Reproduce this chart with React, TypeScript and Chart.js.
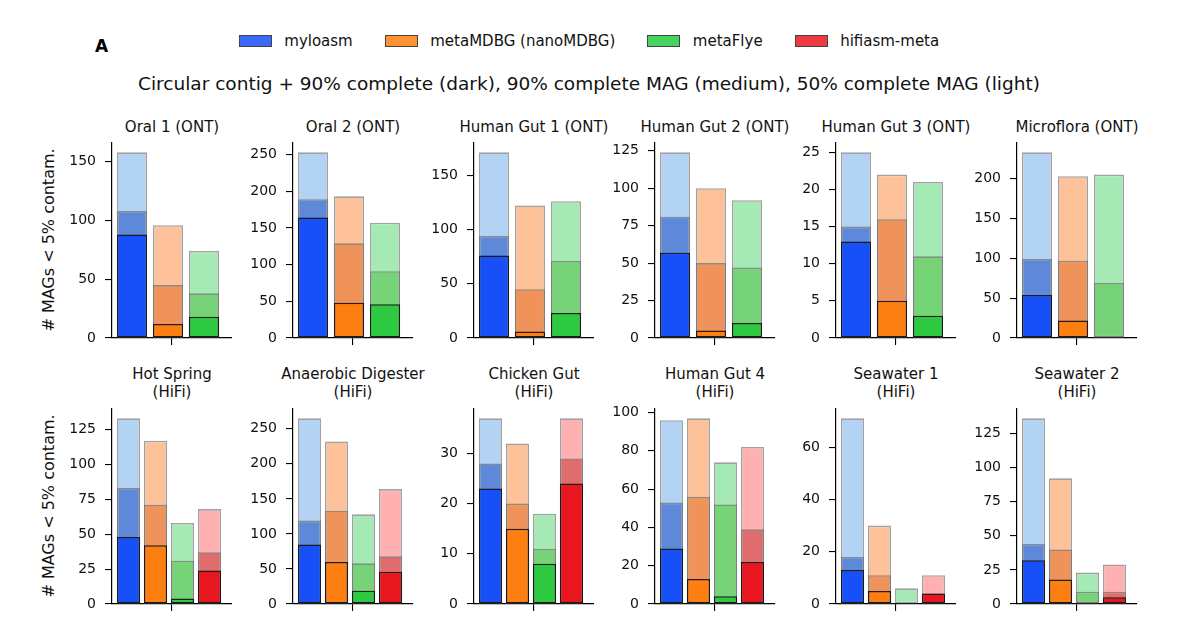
import React, { useEffect, useRef } from 'react';
import { Chart, registerables } from 'chart.js';

Chart.register(...registerables);
Chart.defaults.font.family = "'DejaVu Sans', sans-serif";

const methods = ['myloasm', 'metaMDBG (nanoMDBG)', 'metaFlye', 'hifiasm-meta'];

const panelTitles = [
  ['Oral 1 (ONT)'],
  ['Oral 2 (ONT)'],
  ['Human Gut 1 (ONT)'],
  ['Human Gut 2 (ONT)'],
  ['Human Gut 3 (ONT)'],
  ['Microflora (ONT)'],
  ['Hot Spring', '(HiFi)'],
  ['Anaerobic Digester', '(HiFi)'],
  ['Chicken Gut', '(HiFi)'],
  ['Human Gut 4', '(HiFi)'],
  ['Seawater 1', '(HiFi)'],
  ['Seawater 2', '(HiFi)'],
];

// Circular contig + 90% complete (dark)
const circular90 = [
  [88, 12, 18],
  [164, 48, 46],
  [76, 6, 23],
  [57, 5, 10],
  [13, 5, 3],
  [54, 22, 0],
  [48, 42, 4, 24],
  [85, 60, 19, 46],
  [23, 15, 8, 24],
  [29, 13, 4, 22],
  [13, 5, 0, 4],
  [32, 18, 1, 5],
];

// 90% complete MAG (medium)
const complete90 = [
  [108, 45, 38],
  [189, 129, 91],
  [94, 45, 71],
  [81, 50, 47],
  [15, 16, 11],
  [99, 97, 69],
  [83, 71, 31, 37],
  [119, 133, 58, 68],
  [28, 20, 11, 29],
  [53, 56, 52, 39],
  [18, 11, 0, 4],
  [44, 40, 9, 9],
];

// 50% complete MAG (light)
const complete50 = [
  [158, 96, 74],
  [253, 193, 157],
  [171, 122, 126],
  [124, 100, 92],
  [25, 22, 21],
  [233, 203, 205],
  [133, 117, 58, 68],
  [265, 232, 128, 164],
  [37, 32, 18, 37],
  [96, 97, 74, 82],
  [71, 30, 6, 11],
  [136, 92, 23, 29],
];

const yTickStep = [50, 50, 50, 25, 5, 50, 25, 50, 10, 20, 20, 25];

const darkColors = ['#1750f7', '#fd7f12', '#2cc941', '#e8161f'];
const mediumColors = ['#5d89d8', '#f0935a', '#77d377', '#e06c6d'];
const lightColors = ['#b3d3f5', '#fec29b', '#a5eab5', '#ffb0b1'];
const legendColors = ['#3b6af8', '#fe9333', '#45d45e', '#ee3a40'];

const FONT = "'DejaVu Sans', sans-serif";

const SPINE_X0 = 112;
const COL_STEP = 181;
const ROW_TOP = [143, 409];
const PLOT_W = 120;
const PLOT_H = 195;
const PAD_L = 62;
const PAD_T = 22;
const PAD_R = 6;
const PAD_B = 22;

function Panel({ idx }: { idx: number }) {
  const ref = useRef<HTMLCanvasElement | null>(null);
  const row = idx < 6 ? 0 : 1;
  const col = idx % 6;
  const left = SPINE_X0 + COL_STEP * col - PAD_L;
  const top = ROW_TOP[row] - PAD_T;
  const W = PAD_L + PLOT_W + PAD_R;
  const H = PAD_T + PLOT_H + PAD_B;

  useEffect(() => {
    if (!ref.current) return;
    const n = complete50[idx].length;
    const slot = row === 0 ? 36 : 27;
    const firstCenter = row === 0 ? 20 : 16.5;
    const xmin = -firstCenter / slot;
    const xmax = xmin + PLOT_W / slot;
    const ymax = Math.max(...complete50[idx]) * 1.05;
    const step = yTickStep[idx];
    const barPct = row === 0 ? 0.84 : 0.86;
    const mk = (vals: number[]) => vals.map((v, i) => ({ x: i, y: v }));
    const cols = (arr: string[]) => arr.slice(0, n);

    const chart = new Chart(ref.current, {
      type: 'bar',
      data: {
        datasets: [
          {
            label: 'dark',
            data: mk(circular90[idx]),
            backgroundColor: cols(darkColors),
            borderColor: 'rgba(15,15,15,0.9)',
            borderWidth: 1.5,
          },
          {
            label: 'medium',
            data: mk(complete90[idx]),
            backgroundColor: cols(mediumColors),
            borderColor: 'rgba(115,115,115,0.75)',
            borderWidth: 1.6,
          },
          {
            label: 'light',
            data: mk(complete50[idx]),
            backgroundColor: cols(lightColors),
            borderColor: 'rgba(130,130,130,0.75)',
            borderWidth: 1.6,
          },
        ],
      },
      options: {
        responsive: false,
        animation: false,
        devicePixelRatio: 1,
        layout: { padding: { left: 0, top: PAD_T, right: PAD_R, bottom: 0 } },
        datasets: {
          bar: {
            grouped: false,
            categoryPercentage: 1,
            barPercentage: barPct,
            borderSkipped: false,
          },
        },
        plugins: {
          legend: { display: false },
          tooltip: { enabled: false },
          title: { display: false },
        },
        scales: {
          x: {
            type: 'linear',
            min: xmin,
            max: xmax,
            offset: false,
            grid: {
              offset: false,
              drawOnChartArea: false,
              drawTicks: true,
              tickLength: 7,
              color: '#000',
              lineWidth: 1.1,
            },
            border: { display: true, color: '#000', width: 1.2 },
            ticks: { display: false },
            afterBuildTicks: (axis: any) => {
              axis.ticks = [{ value: (xmin + xmax) / 2 }];
            },
            afterFit: (axis: any) => {
              axis.height = PAD_B;
            },
          },
          y: {
            type: 'linear',
            min: 0,
            max: ymax,
            stacked: false,
            grid: {
              drawOnChartArea: false,
              drawTicks: true,
              tickLength: 7,
              color: '#000',
              lineWidth: 1.1,
            },
            border: { display: true, color: '#000', width: 1.2 },
            ticks: {
              font: { size: 14, family: FONT },
              color: '#111',
              padding: 9,
              callback: (v: any) => String(v),
            },
            afterBuildTicks: (axis: any) => {
              const t: { value: number }[] = [];
              for (let v = 0; v <= ymax + 1e-9; v += step) t.push({ value: v });
              axis.ticks = t;
            },
            afterFit: (axis: any) => {
              axis.width = PAD_L;
            },
          },
        },
      } as any,
    });
    return () => chart.destroy();
  }, [idx]);

  const titleLines = panelTitles[idx];
  const titleCenterY = row === 0 ? 127 : 383;
  const centerX = SPINE_X0 + COL_STEP * col + PLOT_W / 2;

  return (
    <>
      <div
        style={{
          position: 'absolute',
          left: centerX - 100,
          width: 200,
          top: titleCenterY - (titleLines.length * 18) / 2,
          textAlign: 'center',
          fontFamily: FONT,
          fontSize: 15,
          lineHeight: '18px',
          color: '#111',
          whiteSpace: 'nowrap',
        }}
      >
        {titleLines.map((l, i) => (
          <div key={i}>{l}</div>
        ))}
      </div>
      <canvas
        ref={ref}
        width={W}
        height={H}
        style={{ position: 'absolute', left, top, width: W, height: H }}
      />
    </>
  );
}

export default function App() {
  const nPanels = complete50.length;
  return (
    <div
      style={{
        position: 'absolute',
        left: 0,
        top: 0,
        width: 1178,
        height: 632,
        background: '#fff',
        overflow: 'hidden',
        fontFamily: FONT,
      }}
    >
      <div
        style={{
          position: 'absolute',
          left: 95,
          top: 36,
          fontSize: 17,
          fontWeight: 'bold',
          lineHeight: '20px',
          color: '#000',
        }}
      >
        A
      </div>
      <div
        style={{
          position: 'absolute',
          left: 0,
          top: 31,
          width: 1178,
          height: 20,
          display: 'flex',
          justifyContent: 'center',
          alignItems: 'center',
          fontSize: 15,
          color: '#111',
        }}
      >
        {methods.map((m, i) => (
          <div
            key={m}
            style={{
              display: 'flex',
              alignItems: 'center',
              marginLeft: i === 0 ? 0 : 32,
            }}
          >
            <div
              style={{
                width: 31,
                height: 10,
                background: legendColors[i],
                border: '1px solid #444',
                marginRight: 12.5,
              }}
            />
            <span style={{ lineHeight: '20px', whiteSpace: 'nowrap' }}>{m}</span>
          </div>
        ))}
      </div>
      <div
        style={{
          position: 'absolute',
          left: 0,
          width: 1178,
          top: 73,
          textAlign: 'center',
          fontSize: 18.5,
          lineHeight: '22px',
          color: '#111',
          whiteSpace: 'nowrap',
        }}
      >
        Circular contig + 90% complete (dark), 90% complete MAG (medium), 50% complete MAG (light)
      </div>
      {[240, 506].map((cy, i) => (
        <div
          key={i}
          style={{
            position: 'absolute',
            left: 49,
            top: cy,
            transform: 'translate(-50%, -50%) rotate(-90deg)',
            fontSize: 16,
            lineHeight: '18px',
            color: '#111',
            whiteSpace: 'nowrap',
          }}
        >
          # MAGs &lt; 5% contam.
        </div>
      ))}
      {Array.from({ length: nPanels }, (_, i) => (
        <Panel key={i} idx={i} />
      ))}
    </div>
  );
}
